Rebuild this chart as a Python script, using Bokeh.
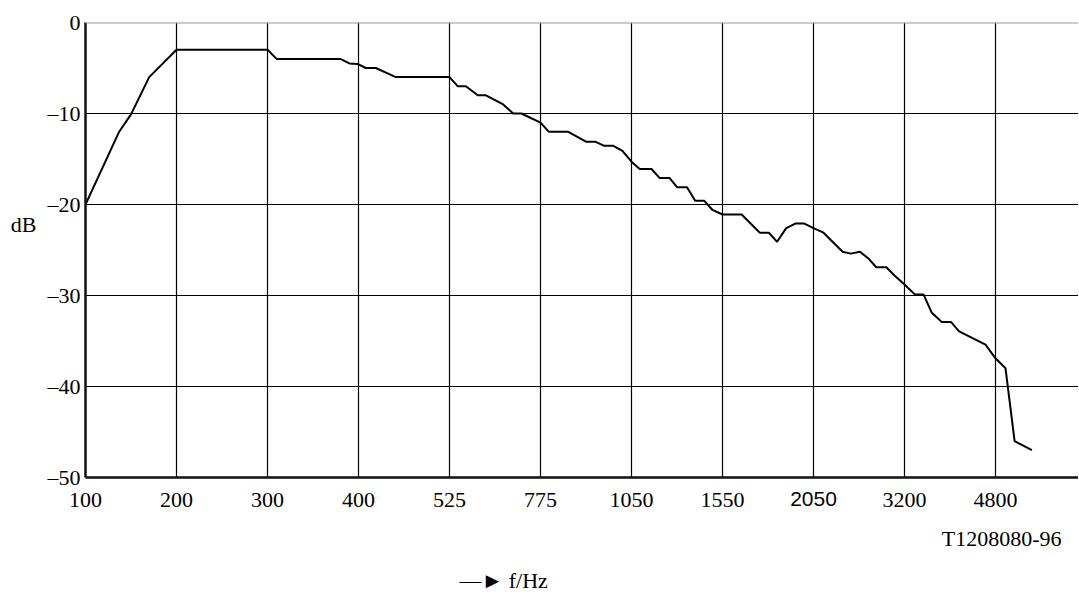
from bokeh.plotting import figure
from bokeh.models import Range1d, FixedTicker, Span, LinearAxis, Title
from bokeh.embed import file_html
from bokeh.resources import INLINE

# Tick labels (the frequency axis is drawn with equally spaced, non-uniform ticks)
freq_labels = ["100", "200", "300", "400", "525", "775", "1050", "1550", "2050", "3200", "4800"]
db_ticks = [-50, -40, -30, -20, -10, 0]

# Curve: x position in tick-index units (0 = 100 Hz, 1 = 200 Hz, ...), y in dB
x_pos = [0.0, 0.37, 0.50, 0.70, 1.0, 2.0, 2.10, 2.80, 2.90, 2.99, 3.08, 3.19, 3.41, 4.0,
         4.09, 4.18, 4.31, 4.40, 4.59, 4.70, 4.79, 5.0, 5.09, 5.30, 5.50, 5.60, 5.70, 5.80,
         5.90, 6.0, 6.09, 6.22, 6.31, 6.42, 6.50, 6.61, 6.70, 6.80, 6.89, 7.0, 7.21, 7.41,
         7.51, 7.60, 7.70, 7.80, 7.90, 8.0, 8.11, 8.32, 8.41, 8.51, 8.60, 8.69, 8.80, 8.89,
         9.0, 9.11, 9.21, 9.30, 9.41, 9.51, 9.60, 9.89, 10.0, 10.11, 10.21, 10.40]
db_vals = [-20.0, -12.0, -10.1, -6.0, -3.0, -3.0, -4.0, -4.0, -4.5, -4.55, -5.0, -5.0, -6.0, -6.0,
           -7.0, -7.0, -8.0, -8.0, -9.0, -10.0, -10.0, -11.0, -12.0, -12.0, -13.1, -13.1, -13.55, -13.55,
           -14.1, -15.3, -16.1, -16.1, -17.1, -17.1, -18.1, -18.1, -19.6, -19.6, -20.6, -21.1, -21.1, -23.1,
           -23.1, -24.1, -22.6, -22.1, -22.1, -22.6, -23.1, -25.2, -25.4, -25.2, -25.9, -26.9, -26.9, -27.8,
           -28.8, -29.85, -29.9, -31.9, -32.9, -32.9, -33.95, -35.4, -36.9, -38.0, -46.0, -47.0]

SERIF = "Liberation Serif"
SANS = "Liberation Sans"
FS = "22px"

p = figure(frame_width=993, frame_height=455, output_backend="svg", toolbar_location=None,
           x_range=Range1d(0, 10.912), y_range=Range1d(-50, 0),
           min_border_left=85, min_border_right=0, min_border_top=22, min_border_bottom=0)
p.outline_line_color = None
p.background_fill_color = "white"

# grids
p.xgrid.ticker = FixedTicker(ticks=list(range(1, 11)))
p.ygrid.ticker = FixedTicker(ticks=[-40, -30, -20, -10])
for g in (p.xgrid, p.ygrid):
    g.grid_line_color = "black"
    g.grid_line_width = 1.2
    g.grid_line_alpha = 1.0

# top border (light gray)
p.add_layout(Span(location=0, dimension="width", line_color="#999999", line_width=2))


def style_axis(ax, font=SERIF):
    ax.major_tick_line_color = None
    ax.minor_tick_line_color = None
    ax.major_tick_out = 0
    ax.major_tick_in = 0
    ax.minor_tick_out = 0
    ax.minor_tick_in = 0
    ax.major_label_text_font = font
    ax.major_label_text_font_size = FS
    ax.major_label_text_color = "black"


# main axes
xa = p.xaxis[0]
xa.ticker = FixedTicker(ticks=list(range(len(freq_labels))))
overrides = {i: lab for i, lab in enumerate(freq_labels)}
overrides[8] = " "
xa.major_label_overrides = overrides
ya = p.yaxis[0]
ya.ticker = FixedTicker(ticks=db_ticks)
ya.major_label_overrides = {t: (str(t) if t == 0 else "\u2013" + str(-t)) for t in db_ticks}
for ax in (xa, ya):
    style_axis(ax)
    ax.axis_line_color = "#111111"
    ax.axis_line_width = 2.5
xa.major_label_standoff = 9
ya.major_label_standoff = 5

# "2050" tick label is set in a sans font in the reference
xa2 = LinearAxis(ticker=FixedTicker(ticks=[8]), major_label_overrides={8: freq_labels[8]},
                 axis_line_color=None)
style_axis(xa2, SANS)
xa2.major_label_text_font_size = "21px"
xa2.major_label_standoff = -23
p.add_layout(xa2, "below")

# "dB" unit label to the left of the dB tick labels
ya2 = LinearAxis(ticker=FixedTicker(ticks=[-22.2]), major_label_overrides={-22.2: "dB"},
                 axis_line_color=None)
style_axis(ya2)
ya2.major_label_standoff = 8
p.add_layout(ya2, "left")

# curve
p.line(x_pos, db_vals, line_color="black", line_width=2)

# footer texts
t1 = Title(text="T1208080-96", align="right", offset=17, text_font=SERIF, text_font_size=FS,
           text_font_style="normal", text_color="black", standoff=18)
p.add_layout(t1, "below")
t2 = Title(text="\u2014\u25BA f/Hz", align="left", offset=374, text_font=SERIF, text_font_size=FS,
           text_font_style="normal", text_color="black", standoff=12)
p.add_layout(t2, "below")

open("out.html", "w").write(file_html(p, INLINE))
